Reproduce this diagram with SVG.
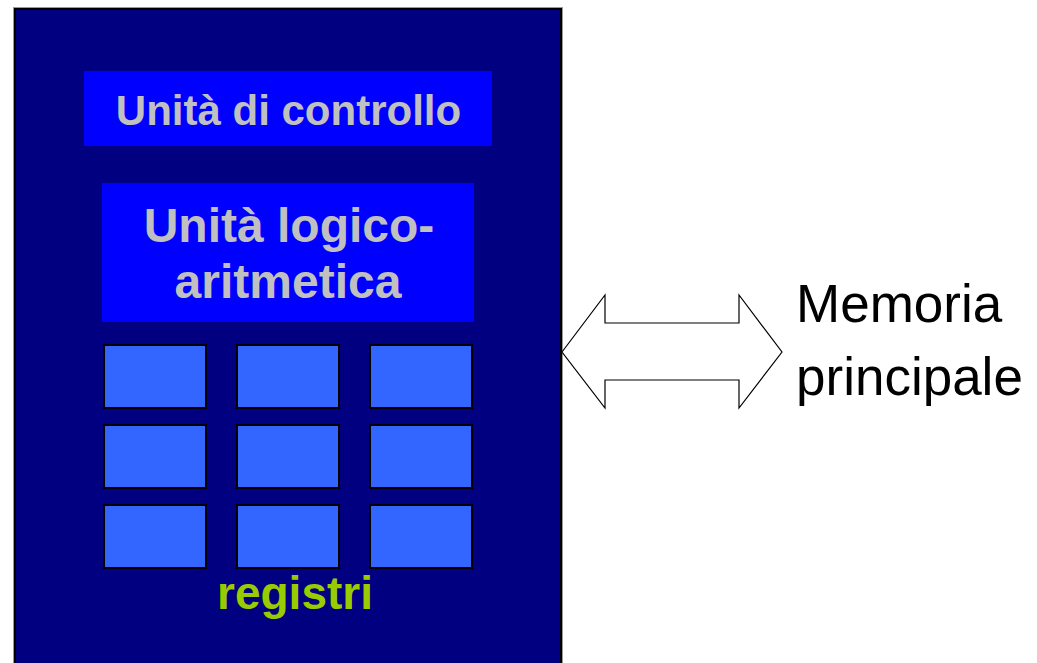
<svg xmlns="http://www.w3.org/2000/svg" width="1037" height="663" viewBox="0 0 1037 663">
<style>
.lbl{font-family:"Liberation Sans",Arial,sans-serif;font-weight:bold;fill:#C0C0C0;text-anchor:middle}
.reg{fill:#3366FF;stroke:#000;stroke-width:2}
.mem{font-family:"Liberation Sans",Arial,sans-serif;font-size:53px;fill:#000}
</style>
<rect width="1037" height="663" fill="#fff"/>
<g id="cpu">
<rect x="13.5" y="7.5" width="549" height="660" fill="#000080" stroke="#999" stroke-width="1"/>
<rect x="15" y="9" width="546" height="660" fill="none" stroke="#000" stroke-width="2"/>
</g>
<g id="control">
<rect x="84" y="71" width="408" height="75" fill="#0000FF"/>
<text class="lbl" x="288.5" y="125" font-size="42">Unità di controllo</text>
</g>
<g id="alu">
<rect x="102" y="183" width="372" height="139" fill="#0000FF"/>
<text class="lbl" x="289" y="242" font-size="48">Unità logico-</text>
<text class="lbl" x="288" y="298" font-size="48">aritmetica</text>
</g>
<g id="registers">
<rect class="reg" x="104" y="345" width="102" height="63"/>
<rect class="reg" x="237" y="345" width="102" height="63"/>
<rect class="reg" x="370" y="345" width="102" height="63"/>
<rect class="reg" x="104" y="425" width="102" height="63"/>
<rect class="reg" x="237" y="425" width="102" height="63"/>
<rect class="reg" x="370" y="425" width="102" height="63"/>
<rect class="reg" x="104" y="505" width="102" height="63"/>
<rect class="reg" x="237" y="505" width="102" height="63"/>
<rect class="reg" x="370" y="505" width="102" height="63"/>
<text x="295" y="609" font-family="Liberation Sans,Arial,sans-serif" font-weight="bold" font-size="46" fill="#99CC00" text-anchor="middle">registri</text>
</g>
<g id="connectors">
<polygon points="562,352 605,295 605,323 739,323 739,295 782,352 739,408 739,380 605,380 605,408" fill="#fff" stroke="#000" stroke-width="1.2"/>
</g>
<g id="memoria">
<text class="mem" x="796" y="322">Memoria</text>
<text class="mem" x="796" y="395">principale</text>
</g>
</svg>
